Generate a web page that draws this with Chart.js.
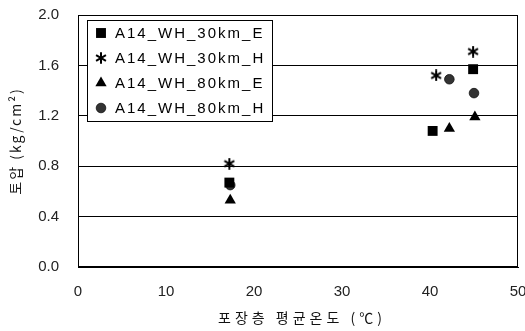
<!DOCTYPE html>
<html>
<head>
<meta charset="utf-8">
<script src="https://cdn.jsdelivr.net/npm/chart.js@4/dist/chart.umd.min.js"></script>
<style>
  html, body { margin: 0; padding: 0; background: #fff; }
  canvas { display: block; }
</style>
</head>
<body>
<canvas id="c" width="525" height="331"></canvas>
<script>
// Average pavement-layer temperature (°C) vs. earth pressure (kg/cm²)
const seriesNames = ['A14_WH_30km_E', 'A14_WH_30km_H', 'A14_WH_80km_E', 'A14_WH_80km_H'];

const tempE30 = [17.2, 40.3, 44.9];
const presE30 = [0.67, 1.08, 1.57];

const tempH30 = [17.2, 40.7, 44.9];
const presH30 = [0.82, 1.52, 1.71];

const tempE80 = [17.3, 42.2, 45.1];
const presE80 = [0.53, 1.10, 1.19];

const tempH80 = [17.3, 42.2, 45.0];
const presH80 = [0.65, 1.49, 1.38];

const xTicks = [0, 10, 20, 30, 40, 50];
const yTicks = [0.0, 0.4, 0.8, 1.2, 1.6, 2.0];

const xTitle = '포장층 평균온도 (℃)';
const yTitle = '토압 (kg/cm²)';

const toPoints = (xs, ys) => xs.map((x, i) => ({ x, y: ys[i] }));

// six-armed asterisk marker
function makeAsterisk(size) {
  const cv = document.createElement('canvas');
  cv.width = size; cv.height = size;
  const g = cv.getContext('2d');
  const c = size / 2, r = size / 2 - 0.3;
  g.strokeStyle = '#000';
  g.lineWidth = 2;
  for (let k = 0; k < 3; k++) {
    const a = Math.PI / 2 + k * Math.PI / 3;
    g.beginPath();
    g.moveTo(c + r * Math.cos(a), c + r * Math.sin(a));
    g.lineTo(c - r * Math.cos(a), c - r * Math.sin(a));
    g.stroke();
  }
  return cv;
}
const asterisk = makeAsterisk(12);

// squares are drawn last so they sit on top of the circles
const ds = [
  { label: seriesNames[0], order: 0, data: toPoints(tempE30, presE30), pointStyle: 'rect', pointRadius: 7, backgroundColor: '#000', borderColor: '#000', borderWidth: 0 },
  { label: seriesNames[1], order: 1, data: toPoints(tempH30, presH30), pointStyle: asterisk, pointRadius: 6, backgroundColor: '#000', borderColor: '#000' },
  { label: seriesNames[2], order: 1, data: toPoints(tempE80, presE80), pointStyle: 'triangle', pointRadius: 6.5, backgroundColor: '#000', borderColor: '#000', borderWidth: 0 },
  { label: seriesNames[3], order: 1, data: toPoints(tempH80, presH80), pointStyle: 'circle', pointRadius: 4.8, backgroundColor: '#333', borderColor: '#111', borderWidth: 0.8 }
];

// frame, legend box and axis titles
const decor = {
  id: 'decor',
  afterDatasetsDraw(chart) {
    const { ctx, chartArea: a } = chart;
    ctx.save();
    ctx.strokeStyle = '#000';
    ctx.lineWidth = 1;
    ctx.strokeRect(a.left + 0.5, a.top + 0.5, a.right - a.left - 1, a.bottom - a.top - 1);

    // legend box inside the plot
    const bx = 87.5, by = 20.5, bw = 185, bh = 101;
    ctx.fillStyle = '#fff';
    ctx.fillRect(bx, by, bw, bh);
    ctx.strokeRect(bx, by, bw, bh);
    ctx.font = '15px "Liberation Sans", Arial, sans-serif';
    ctx.textBaseline = 'middle';
    ctx.textAlign = 'left';
    if ('letterSpacing' in ctx) ctx.letterSpacing = '2px';
    chart.data.datasets.forEach((d, i) => {
      const y = 33 + i * 25;
      const opts = chart.getDatasetMeta(i).data[0].options;
      ctx.fillStyle = opts.backgroundColor;
      ctx.strokeStyle = opts.borderColor;
      ctx.lineWidth = opts.borderWidth;
      Chart.helpers.drawPoint(ctx, {
        pointStyle: opts.pointStyle,
        radius: opts.radius,
        rotation: 0,
        borderWidth: opts.borderWidth
      }, 101, y);
      ctx.fillStyle = '#000';
      ctx.fillText(d.label, 115, y + 1);
    });

    // axis titles
    ctx.font = '14px "Noto Sans CJK KR", sans-serif';
    ctx.fillStyle = '#111';
    ctx.textAlign = 'center';
    if ('letterSpacing' in ctx) ctx.letterSpacing = '4px';
    ctx.fillText(xTitle, (a.left + a.right) / 2 + 4, 318);
    if ('letterSpacing' in ctx) ctx.letterSpacing = '2px';
    ctx.translate(16, (a.top + a.bottom) / 2);
    ctx.rotate(-Math.PI / 2);
    ctx.fillText(yTitle, 0, 0);
    ctx.restore();
  }
};

const tickFont = { family: '"Liberation Sans", Arial, sans-serif', size: 15 };
const noPad = s => { s.paddingTop = 0; s.paddingBottom = 0; s.paddingLeft = 0; s.paddingRight = 0; };

new Chart(document.getElementById('c'), {
  type: 'scatter',
  data: { datasets: ds },
  options: {
    responsive: false,
    animation: false,
    devicePixelRatio: 1,
    layout: { padding: { top: 15, right: 6, left: 0, bottom: 0 } },
    plugins: { legend: { display: false }, tooltip: { enabled: false } },
    scales: {
      x: {
        type: 'linear',
        min: xTicks[0], max: xTicks[xTicks.length - 1],
        afterBuildTicks: s => { s.ticks = xTicks.map(v => ({ value: v })); },
        afterFit: s => { s.height = 64; noPad(s); },
        grid: { display: false, drawTicks: false },
        border: { display: true, color: '#000', width: 1 },
        ticks: { font: tickFont, color: '#222', padding: 16, maxRotation: 0, callback: v => String(v) }
      },
      y: {
        type: 'linear',
        min: yTicks[0], max: yTicks[yTicks.length - 1],
        afterBuildTicks: s => { s.ticks = yTicks.map(v => ({ value: v })); },
        afterFit: s => { s.width = 78; noPad(s); },
        grid: { color: '#000', lineWidth: 1, drawTicks: false },
        border: { display: true, color: '#000', width: 1 },
        ticks: { font: tickFont, color: '#222', padding: 19, callback: v => Number(v).toFixed(1) }
      }
    }
  },
  plugins: [decor]
});
</script>
</body>
</html>
